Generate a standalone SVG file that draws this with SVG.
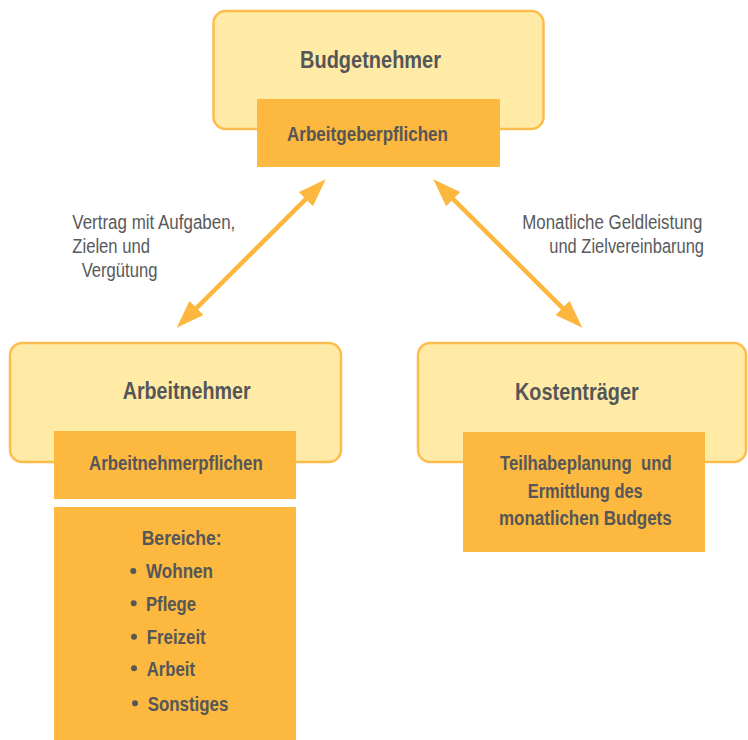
<svg xmlns="http://www.w3.org/2000/svg" width="748" height="740" viewBox="0 0 748 740">
<style>
.outer{fill:#FFEBA6;stroke:#FCBD4E;stroke-width:2.5}
.inner{fill:#FDB83F}
.b{font-family:"Liberation Sans Narrow","Liberation Sans",Arial,sans-serif;font-weight:bold;fill:#555658}
.r{font-family:"Liberation Sans Narrow","Liberation Sans",Arial,sans-serif;fill:#58595B;font-size:20px}
.t24{font-size:24px}
.t21{font-size:21px}
.arrow{stroke:#FDB73F;stroke-width:4.5;fill:none;marker-start:url(#head);marker-end:url(#head)}
.dot{fill:#555658}
</style>
<defs>
<marker id="head" markerUnits="userSpaceOnUse" markerWidth="28" markerHeight="20" viewBox="0 0 28 20" refX="14" refY="10" orient="auto-start-reverse">
<path d="M0,0 L28,10 L0,20 z" fill="#FDB73F"/>
</marker>
</defs>
<rect width="748" height="740" fill="#FFFFFF"/>
<g id="connectors">
<line class="arrow" x1="186.6" y1="317.8" x2="315.8" y2="189.2"/>
<line class="arrow" x1="443.2" y1="189.2" x2="572.4" y2="317.8"/>
<text class="r" x="72.3" y="229" textLength="163" lengthAdjust="spacingAndGlyphs">Vertrag mit Aufgaben,</text>
<text class="r" x="72.3" y="253.3" textLength="77.7" lengthAdjust="spacingAndGlyphs">Zielen und</text>
<text class="r" x="81.7" y="277.3" textLength="75.7" lengthAdjust="spacingAndGlyphs">Vergütung</text>
<text class="r" x="522.3" y="229" textLength="180" lengthAdjust="spacingAndGlyphs">Monatliche Geldleistung</text>
<text class="r" x="549.3" y="253.3" textLength="154.7" lengthAdjust="spacingAndGlyphs">und Zielvereinbarung</text>
</g>
<g id="budgetnehmer">
<rect class="outer" x="213.5" y="11" width="330" height="118" rx="12"/>
<text class="b t24" x="300" y="68" textLength="141" lengthAdjust="spacingAndGlyphs">Budgetnehmer</text>
<rect class="inner" x="257" y="99" width="243" height="68"/>
<text class="b t21" x="287" y="141" textLength="161" lengthAdjust="spacingAndGlyphs">Arbeitgeberpflichen</text>
</g>
<g id="arbeitnehmer">
<rect class="outer" x="10" y="343" width="331" height="119" rx="12"/>
<text class="b t24" x="122.7" y="399" textLength="128" lengthAdjust="spacingAndGlyphs">Arbeitnehmer</text>
<rect class="inner" x="54" y="431" width="242" height="68"/>
<text class="b t21" x="89" y="470" textLength="173.7" lengthAdjust="spacingAndGlyphs">Arbeitnehmerpflichen</text>
</g>
<g id="bereiche">
<rect class="inner" x="54" y="507" width="242" height="233"/>
<text class="b t21" x="141.7" y="545" textLength="80" lengthAdjust="spacingAndGlyphs">Bereiche:</text>
<circle class="dot" cx="133.3" cy="571" r="3"/>
<text class="b t21" x="146" y="578.3" textLength="67" lengthAdjust="spacingAndGlyphs">Wohnen</text>
<circle class="dot" cx="133.7" cy="603.3" r="3"/>
<text class="b t21" x="146" y="611" textLength="50" lengthAdjust="spacingAndGlyphs">Pflege</text>
<circle class="dot" cx="134" cy="636.7" r="3"/>
<text class="b t21" x="146.7" y="644" textLength="59" lengthAdjust="spacingAndGlyphs">Freizeit</text>
<circle class="dot" cx="134" cy="668.3" r="3"/>
<text class="b t21" x="146.7" y="675.7" textLength="48.3" lengthAdjust="spacingAndGlyphs">Arbeit</text>
<circle class="dot" cx="135" cy="703.3" r="3"/>
<text class="b t21" x="147.7" y="710.7" textLength="80.7" lengthAdjust="spacingAndGlyphs">Sonstiges</text>
</g>
<g id="kostentraeger">
<rect class="outer" x="418" y="343" width="328" height="119" rx="12"/>
<text class="b t24" x="515" y="400" textLength="123.7" lengthAdjust="spacingAndGlyphs">Kostenträger</text>
<rect class="inner" x="463" y="432" width="242" height="120"/>
<text class="b t21" x="500" y="470" textLength="171.7" lengthAdjust="spacingAndGlyphs" xml:space="preserve">Teilhabeplanung  und</text>
<text class="b t21" x="527.7" y="498" textLength="115" lengthAdjust="spacingAndGlyphs">Ermittlung des</text>
<text class="b t21" x="499" y="525" textLength="172.7" lengthAdjust="spacingAndGlyphs">monatlichen Budgets</text>
</g>
</svg>
